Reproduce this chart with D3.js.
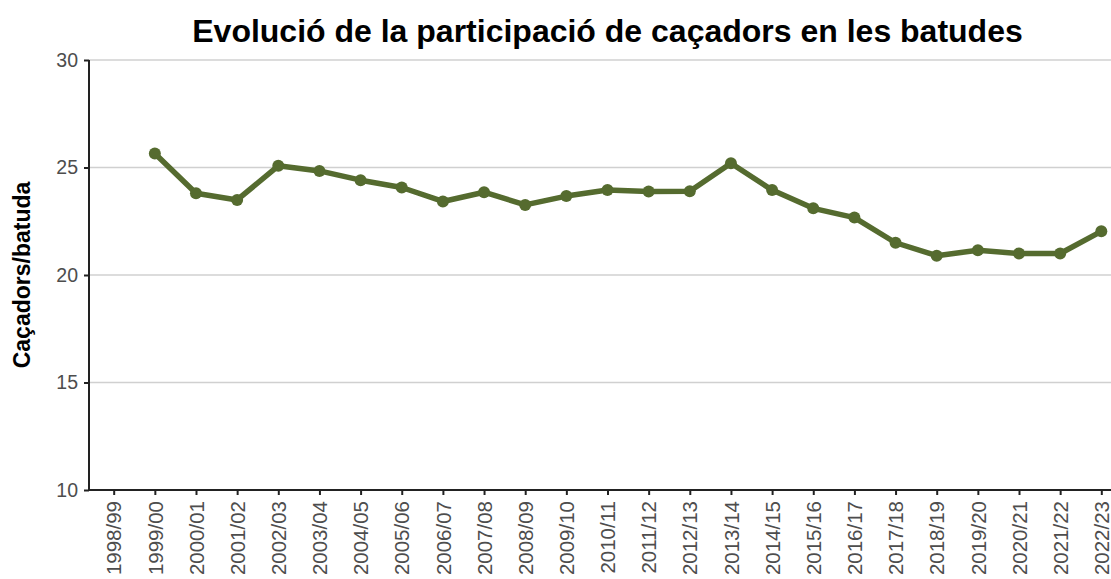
<!DOCTYPE html>
<html>
<head>
<meta charset="utf-8">
<script src="https://cdn.jsdelivr.net/npm/d3@7"></script>
<style>
  body { margin: 0; background: #fff; }
  svg { display: block; font-family: "Liberation Sans", Arial, sans-serif; }
</style>
</head>
<body>
<svg id="chart" width="1111" height="579"></svg>
<script>
// seasons on the x axis
var seasons = ["1998/99", "1999/00", "2000/01", "2001/02", "2002/03", "2003/04", "2004/05",
  "2005/06", "2006/07", "2007/08", "2008/09", "2009/10", "2010/11", "2011/12", "2012/13",
  "2013/14", "2014/15", "2015/16", "2016/17", "2017/18", "2018/19", "2019/20", "2020/21",
  "2021/22", "2022/23"];
// hunters per beat (no value for 1998/99)
var hunters = [null, 25.65, 23.8, 23.49, 25.08, 24.84, 24.41, 24.07, 23.42, 23.85, 23.26,
  23.67, 23.95, 23.88, 23.9, 25.2, 23.95, 23.1, 22.67, 21.5, 20.9, 21.15, 21.0, 21.0, 22.03];
var yTicks = [10, 15, 20, 25, 30];

var svg = d3.select("#chart");
var mLeft = 89, mTop = 60, mBottom = 490, mRight = 1126;

var x = d3.scalePoint().domain(seasons).range([mLeft, mRight]).padding(0.6);
var y = d3.scaleLinear().domain([10, 30]).range([mBottom, mTop]);

var data = seasons.map(function (s, i) { return { season: s, value: hunters[i] }; })
  .filter(function (d) { return d.value !== null; });

// grid
svg.append("g").selectAll("line")
  .data(yTicks.filter(function (t) { return t > 10; }))
  .enter().append("line")
  .attr("x1", mLeft).attr("x2", 1111)
  .attr("y1", function (d) { return y(d); })
  .attr("y2", function (d) { return y(d); })
  .attr("stroke", "#d0d0d0")
  .attr("stroke-width", 1.5);

// axes
var yAxis = svg.append("g")
  .attr("transform", "translate(" + mLeft + ",0)")
  .call(d3.axisLeft(y).tickValues(yTicks).tickSize(5).tickPadding(6));
var xAxis = svg.append("g")
  .attr("transform", "translate(0," + mBottom + ")")
  .call(d3.axisBottom(x).tickSize(5).tickPadding(4));

[yAxis, xAxis].forEach(function (a) {
  a.select(".domain").attr("stroke", "#222").attr("stroke-width", 2);
  a.selectAll(".tick line").attr("stroke", "#222").attr("stroke-width", 2);
  a.selectAll("text").attr("fill", "#4d4d4d").style("font-size", "19.5px");
});
xAxis.select(".domain").attr("d", "M" + mLeft + ",0H1111");
yAxis.select(".domain").attr("d", "M0," + mTop + "V" + mBottom);

xAxis.selectAll("text")
  .style("font-size", "20.5px")
  .attr("transform", "rotate(-90)")
  .attr("text-anchor", "end")
  .attr("x", -11)
  .attr("y", 0)
  .attr("dy", "0.35em");

// line and points
var line = d3.line()
  .x(function (d) { return x(d.season); })
  .y(function (d) { return y(d.value); });

svg.append("path")
  .datum(data)
  .attr("d", line)
  .attr("fill", "none")
  .attr("stroke", "#556b2f")
  .attr("stroke-width", 5.5)
  .attr("stroke-linejoin", "round");

svg.append("g").selectAll("circle")
  .data(data)
  .enter().append("circle")
  .attr("cx", function (d) { return x(d.season); })
  .attr("cy", function (d) { return y(d.value); })
  .attr("r", 6)
  .attr("fill", "#556b2f");

// title and y label
svg.append("text")
  .attr("x", (mLeft + mRight) / 2)
  .attr("y", 42)
  .attr("text-anchor", "middle")
  .style("font-size", "32px")
  .style("font-weight", "bold")
  .attr("fill", "#000")
  .text("Evolució de la participació de caçadors en les batudes");

svg.append("text")
  .attr("transform", "translate(30," + (mTop + mBottom) / 2 + ") rotate(-90)")
  .attr("text-anchor", "middle")
  .style("font-size", "23px")
  .style("font-weight", "bold")
  .attr("fill", "#000")
  .text("Caçadors/batuda");
</script>
</body>
</html>
